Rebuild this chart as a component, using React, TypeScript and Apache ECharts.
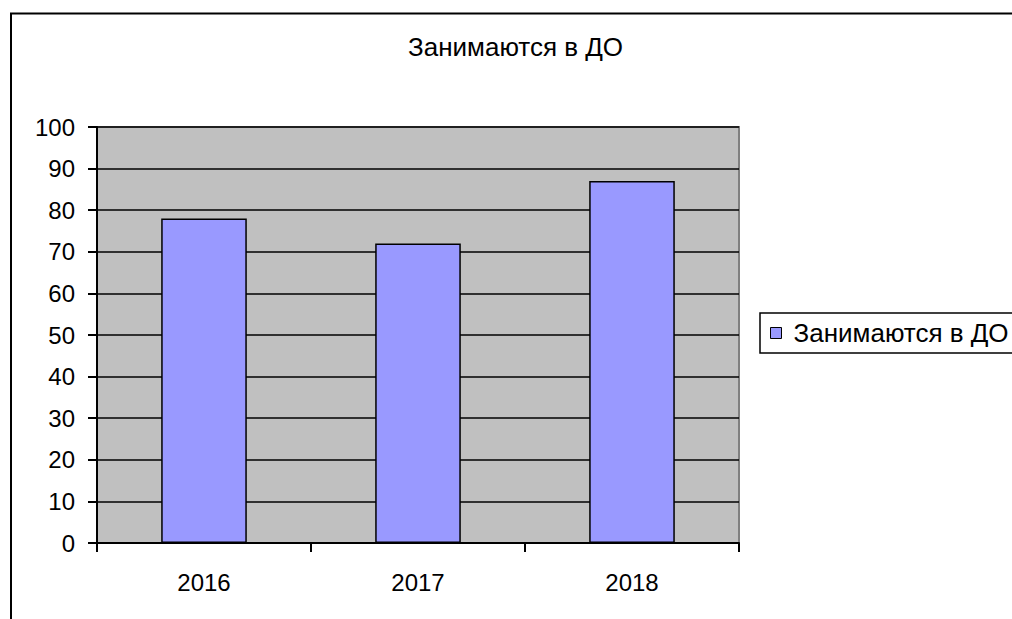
import React, { useEffect, useRef } from "react";
import * as echarts from "echarts";

const categories = ["2016", "2017", "2018"];
const seriesName = "Занимаются в ДО";
const values = [78, 72, 87];
const titleText = "Занимаются в ДО";

const FONT = "'Liberation Sans', Arial, sans-serif";

export default function App() {
  const ref = useRef<HTMLDivElement>(null);
  useEffect(() => {
    document.body.style.margin = "0";
    const chart = echarts.init(ref.current!, null, { renderer: "svg" });
    chart.setOption({
      animation: false,
      backgroundColor: "#ffffff",
      textStyle: { fontFamily: FONT, color: "#000" },
      title: {
        text: titleText,
        left: 408,
        top: 34,
        padding: 0,
        textStyle: { fontFamily: FONT, fontSize: 26, fontWeight: "normal", color: "#000" },
      },
      legend: {
        data: [seriesName],
        left: 760,
        top: 313,
        orient: "vertical",
        backgroundColor: "#fff",
        borderColor: "#000",
        borderWidth: 1.5,
        borderRadius: 0,
        padding: [7, 30, 7, 10],
        itemWidth: 11,
        itemHeight: 11,
        icon: "rect",
        itemStyle: { borderColor: "#000", borderWidth: 1 },
        textStyle: { fontFamily: FONT, fontSize: 26, color: "#000", padding: [0, 0, 0, 7] },
      },
      grid: {
        left: 97,
        top: 127,
        right: 273,
        bottom: 76,
        show: true,
        backgroundColor: "#C0C0C0",
        borderColor: "#808080",
        borderWidth: 2,
      },
      xAxis: {
        type: "category",
        data: categories,
        boundaryGap: true,
        axisLine: { lineStyle: { color: "#000", width: 2 } },
        axisTick: { show: true, length: 9, alignWithLabel: false, lineStyle: { color: "#000", width: 2 } },
        axisLabel: { fontFamily: FONT, fontSize: 24, color: "#000", margin: 27 },
        splitLine: { show: false },
      },
      yAxis: {
        type: "value",
        min: 0,
        max: 100,
        interval: 10,
        axisLine: { show: true, lineStyle: { color: "#000", width: 2 } },
        axisTick: { show: true, length: 9, lineStyle: { color: "#000", width: 2 } },
        axisLabel: { fontFamily: FONT, fontSize: 24, color: "#000", margin: 22 },
        splitLine: { show: true, lineStyle: { color: "#000", width: 1.5 } },
      },
      series: [
        {
          name: seriesName,
          type: "bar",
          data: values,
          barWidth: "40%",
          itemStyle: { color: "#9999FF", borderColor: "#000", borderWidth: 1.5 },
        },
      ],
      graphic: [
        {
          type: "rect",
          silent: true,
          z: 100,
          shape: { x: 11, y: 13.5, width: 1200, height: 800 },
          style: { fill: "none", stroke: "#000", lineWidth: 2 },
        },
      ],
    });
    return () => chart.dispose();
  }, []);
  return <div ref={ref} style={{ width: 1012, height: 619 }} />;
}
